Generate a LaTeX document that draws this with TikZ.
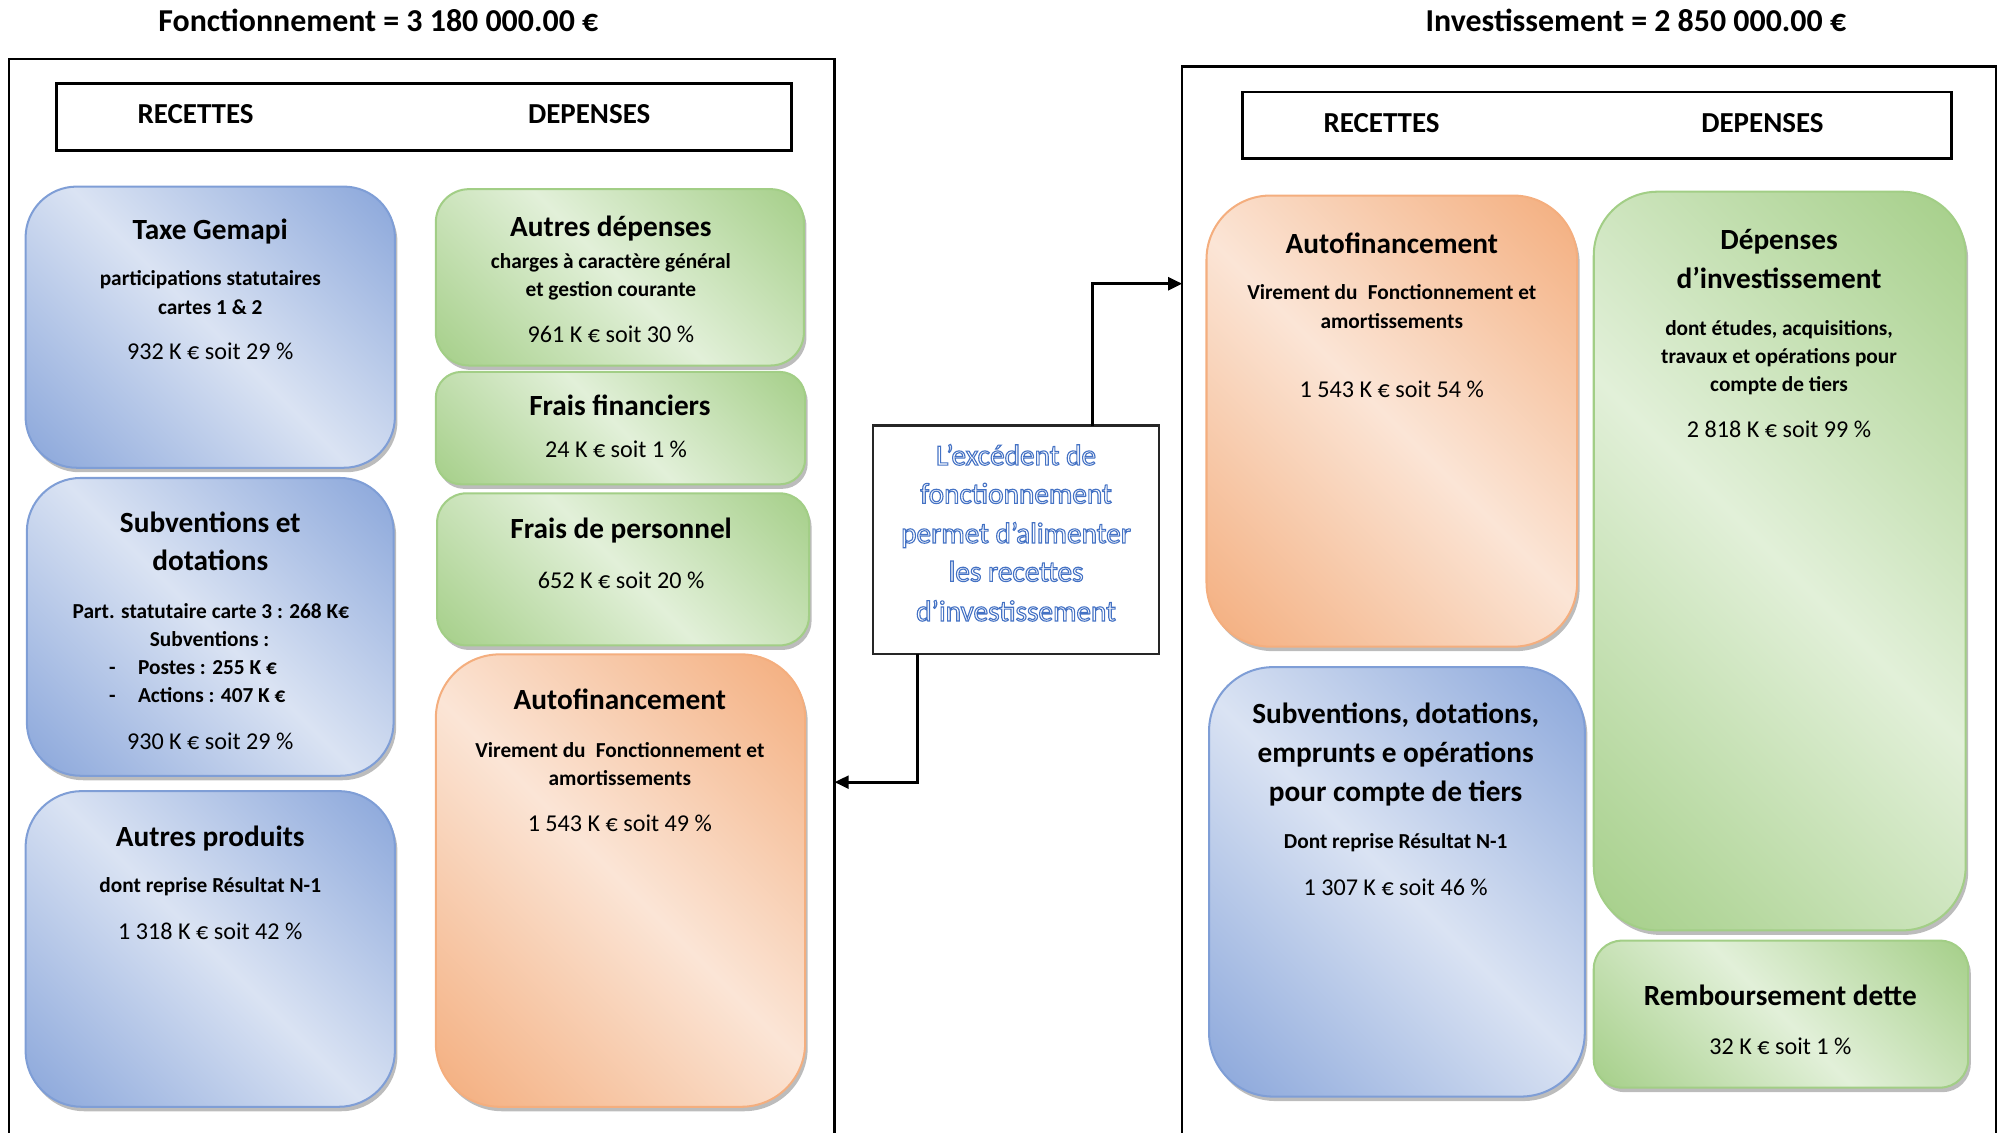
\documentclass[tikz,border=0pt]{standalone}
\usepackage{fontspec}
\setmainfont{Carlito}
\usetikzlibrary{shadows,arrows.meta,calc}
\definecolor{bdark}{HTML}{8FAADC}
\definecolor{blight}{HTML}{DAE3F3}
\definecolor{bline}{HTML}{7F9ED6}
\definecolor{gdark}{HTML}{A9D18E}
\definecolor{glight}{HTML}{E2F0D9}
\definecolor{gline}{HTML}{A2CE86}
\definecolor{odark}{HTML}{F4B183}
\definecolor{olight}{HTML}{FBE5D6}
\definecolor{oline}{HTML}{F4AE7E}
\definecolor{outblue}{HTML}{4472C4}
\pgfdeclareverticalshading{bshade}{100bp}{color(0bp)=(bdark); color(17bp)=(bdark); color(50bp)=(blight); color(83bp)=(bdark); color(100bp)=(bdark)}
\pgfdeclareverticalshading{gshade}{100bp}{color(0bp)=(gdark); color(17bp)=(gdark); color(50bp)=(glight); color(83bp)=(gdark); color(100bp)=(gdark)}
\pgfdeclareverticalshading{oshade}{100bp}{color(0bp)=(odark); color(17bp)=(odark); color(50bp)=(olight); color(83bp)=(odark); color(100bp)=(odark)}
\newcommand\outlinetext[1]{\special{pdf:literal direct 1 Tr 0.25 w}#1\special{pdf:literal direct 0 Tr}}
\begin{document}
\begin{tikzpicture}[x=0.1mm,y=-0.1mm,
  every node/.style={inner sep=0pt, outer sep=0pt},
  maintitle/.style={font=\fontsize{7.1}{8.5}\selectfont\bfseries, anchor=base, yshift=-0.2mm},
  headlbl/.style={font=\fontsize{6.45}{8}\selectfont\bfseries, anchor=base, yshift=-0.2mm},
  ttl/.style={font=\fontsize{6.52}{8}\selectfont\bfseries, anchor=base, yshift=-0.2mm},
  bod/.style={font=\fontsize{4.75}{6}\selectfont\bfseries, anchor=base, yshift=-0.2mm},
  amt/.style={font=\fontsize{5.38}{6.5}\selectfont, anchor=base, yshift=-0.2mm},
  midtxt/.style={font=\fontsize{6.52}{8}\selectfont, anchor=base, text=outblue, yshift=-0.15mm},
  frame/.style={draw=black, line width=0.5pt, rectangle},
  header/.style={draw=black, line width=0.65pt, rectangle},
  boxshadow/.style={drop shadow={shadow xshift=0.2mm, shadow yshift=-0.35mm, opacity=0.35, fill=black!75}},
  bluebox/.style={rectangle, rounded corners=#1, draw=bline, line width=0.45pt, shading=bshade, shading angle=-45, boxshadow},
  greenbox/.style={rectangle, rounded corners=#1, draw=gline, line width=0.45pt, shading=gshade, shading angle=-45, boxshadow},
  orangebox/.style={rectangle, rounded corners=#1, draw=oline, line width=0.45pt, shading=oshade, shading angle=-45, boxshadow},
  conn/.style={draw=black, line width=0.65pt, -{Triangle[length=1.1mm,width=1mm]}}
]
\useasboundingbox (0,0) rectangle (1568,886);

% titles
\node[maintitle] (tfonc) at (296,22.4) {Fonctionnement = 3 180 000.00 €};
\node[maintitle] (tinv) at (1280,22.4) {Investissement = 2 850 000.00 €};

% frames
\node[frame, minimum width=64.6mm, minimum height=95.4mm] (fl) at (330,523) {};
\node[frame, minimum width=63.7mm, minimum height=94.8mm] (fr) at (1243.5,526) {};

% headers
\node[header, minimum width=57.5mm, minimum height=5.3mm] (hl) at (331.5,91.5) {};
\node[headlbl] (hlr) at (153,94.3) {RECETTES};
\node[headlbl] (hld) at (461,94.3) {DEPENSES};
\node[header, minimum width=55.5mm, minimum height=5.2mm] (hr) at (1249.5,98) {};
\node[headlbl] (hrr) at (1081,101.3) {RECETTES};
\node[headlbl] (hrd) at (1379,101.3) {DEPENSES};

% ---------- Fonctionnement: recettes ----------
\node[bluebox=4mm, minimum width=28.9mm, minimum height=22mm] (tg) at (164.5,256) {};
\node[ttl] (tg1) at (164.5,185.4) {Taxe Gemapi};
\node[bod] (tg2) at (164.5,221.7) {participations statutaires};
\node[bod] (tg3) at (164.5,243.7) {cartes 1 \& 2};
\node[amt] (tg4) at (164.5,279.3) {932 K € soit 29 \%};

\node[bluebox=4.2mm, minimum width=28.7mm, minimum height=23.3mm] (sd) at (164.5,490.5) {};
\node[ttl] (sd1) at (164.5,414.4) {Subventions et};
\node[ttl] (sd2) at (164.5,444.4) {dotations};
\node[bod] (sd3) at (165,481.7) {Part. statutaire carte 3 : 268 K€};
\node[bod] (sd4) at (164,503.7) {Subventions :};
\node[bod] (sd5a) at (88,525.7) {-};
\node[bod, anchor=base west] (sd5) at (108,525.7) {Postes : 255 K €};
\node[bod] (sd6a) at (88,547.7) {-};
\node[bod, anchor=base west] (sd6) at (108,547.7) {Actions : 407 K €};
\node[amt] (sd7) at (164.5,584.3) {930 K € soit 29 \%};

\node[bluebox=4.4mm, minimum width=28.9mm, minimum height=24.7mm] (ap) at (164.5,742.5) {};
\node[ttl] (ap1) at (164.5,660.4) {Autres produits};
\node[bod] (ap2) at (164.5,696.7) {dont reprise Résultat N-1};
\node[amt] (ap3) at (164.5,733.3) {1 318 K € soit 42 \%};

% ---------- Fonctionnement: depenses ----------
\node[greenbox=2.6mm, minimum width=28.8mm, minimum height=13.8mm] (ad) at (485,217) {};
\node[ttl] (ad1) at (478,183.4) {Autres dépenses};
\node[bod] (ad2) at (478,207.7) {charges à caractère général};
\node[bod] (ad3) at (478,229.7) {et gestion courante};
\node[amt] (ad4) at (478,266.3) {961 K € soit 30 \%};

\node[greenbox=2mm, minimum width=28.9mm, minimum height=8.8mm] (ff) at (485.5,335) {};
\node[ttl] (ff1) at (485,323.4) {Frais financiers};
\node[amt] (ff2) at (482,356.3) {24 K € soit 1 \%};

\node[greenbox=2.3mm, minimum width=29.1mm, minimum height=11.9mm] (fp) at (487.5,445.5) {};
\node[ttl] (fp1) at (486,419.4) {Frais de personnel};
\node[amt] (fp2) at (486,458.3) {652 K € soit 20 \%};

\node[orangebox=5mm, minimum width=28.9mm, minimum height=35.4mm] (afl) at (485.5,689) {};
\node[ttl] (afl1) at (485,553.4) {Autofinancement};
\node[bod] (afl2) at (485,590.7) {Virement du\hspace{0.25em} Fonctionnement et};
\node[bod] (afl3) at (485,612.7) {amortissements};
\node[amt] (afl4) at (485,648.3) {1 543 K € soit 49 \%};

% ---------- middle ----------
\node[draw=black!85, line width=0.5pt, rectangle, minimum width=22.4mm, minimum height=17.9mm] (mid) at (795,422.5) {};
\node[midtxt] (m1) at (795,362.4) {\outlinetext{L’excédent de}};
\node[midtxt] (m2) at (795,392.4) {\outlinetext{fonctionnement}};
\node[midtxt] (m3) at (795,423.4) {\outlinetext{permet d’alimenter}};
\node[midtxt] (m4) at (795,453.4) {\outlinetext{les recettes}};
\node[midtxt] (m5) at (795,484.4) {\outlinetext{d’investissement}};

\coordinate (cup) at (855,222);
\coordinate (cdown) at (718,612);
\draw[conn] (mid.north -| cup) |- (fr.west |- cup);
\draw[conn] (mid.south -| cdown) |- (fl.east |- cdown);

% ---------- Investissement: recettes ----------
\node[orangebox=5mm, minimum width=29mm, minimum height=35.3mm] (afr) at (1089,329.5) {};
\node[ttl] (afr1) at (1089,196.4) {Autofinancement};
\node[bod] (afr2) at (1089,232.7) {Virement du\hspace{0.25em} Fonctionnement et};
\node[bod] (afr3) at (1089,254.7) {amortissements};
\node[amt] (afr4) at (1089,309.3) {1 543 K € soit 54 \%};

\node[bluebox=5mm, minimum width=29.4mm, minimum height=33.6mm] (sdr) at (1093,690) {};
\node[ttl] (sdr1) at (1092,564.4) {Subventions, dotations,};
\node[ttl] (sdr2) at (1092,594.4) {emprunts e opérations};
\node[ttl] (sdr3) at (1092,625.4) {pour compte de tiers};
\node[bod] (sdr4) at (1092,661.7) {Dont reprise Résultat N-1};
\node[amt] (sdr5) at (1092,698.3) {1 307 K € soit 46 \%};

% ---------- Investissement: depenses ----------
\node[greenbox=5mm, minimum width=29.1mm, minimum height=57.8mm] (di) at (1392.5,439) {};
\node[ttl] (di1) at (1392,193.4) {Dépenses};
\node[ttl] (di2) at (1392,223.4) {d’investissement};
\node[bod] (di3) at (1392,260.7) {dont études, acquisitions,};
\node[bod] (di4) at (1392,282.7) {travaux et opérations pour};
\node[bod] (di5) at (1392,304.7) {compte de tiers};
\node[amt] (di6) at (1392,340.3) {2 818 K € soit 99 \%};

\node[greenbox=2.2mm, minimum width=29.3mm, minimum height=11.5mm] (rd) at (1393.5,793.5) {};
\node[ttl] (rd1) at (1393,784.4) {Remboursement dette};
\node[amt] (rd2) at (1393,823.3) {32 K € soit 1 \%};
\end{tikzpicture}
\end{document}
